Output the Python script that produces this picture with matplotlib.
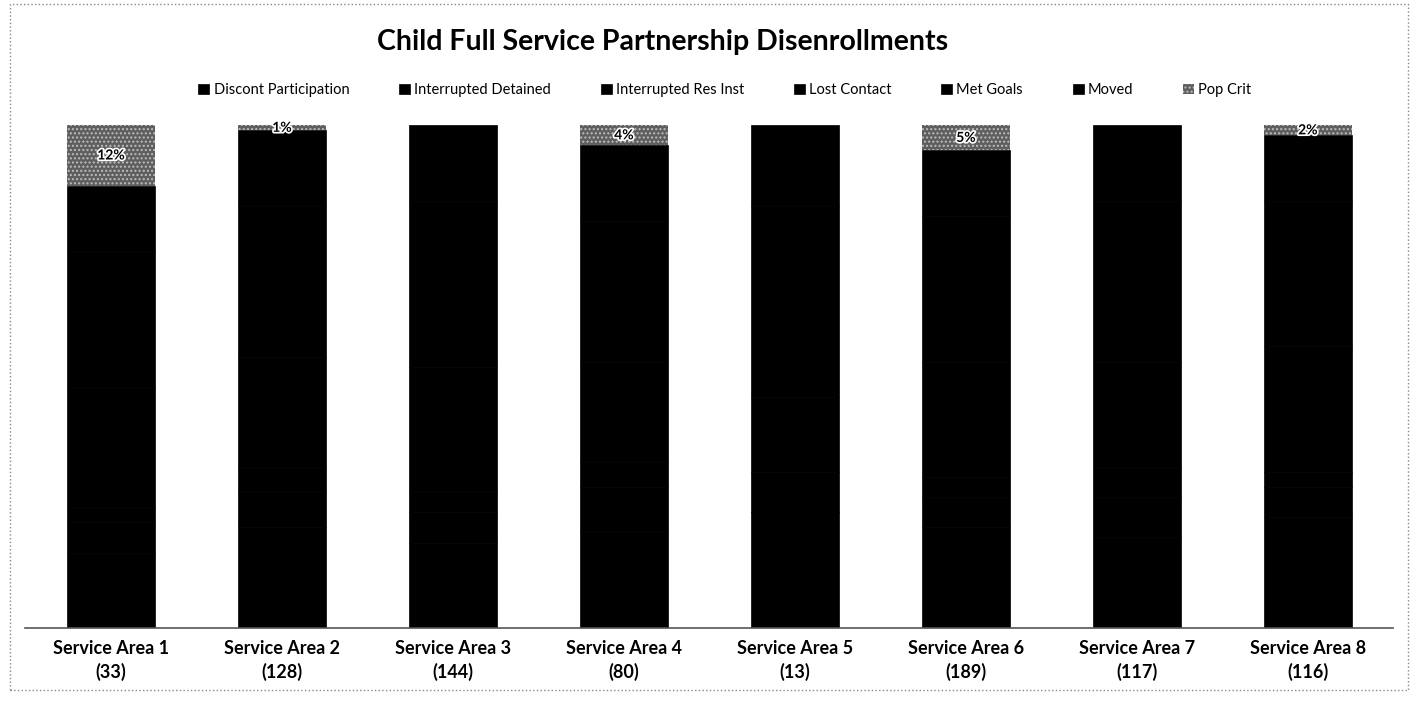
import matplotlib.pyplot as plt
import matplotlib.patheffects as pe
from matplotlib.patches import Rectangle
import numpy as np

plt.rcParams['font.family'] = ['Lato', 'DejaVu Sans']

areas = ['Service Area 1', 'Service Area 2', 'Service Area 3', 'Service Area 4',
         'Service Area 5', 'Service Area 6', 'Service Area 7', 'Service Area 8']
counts = [33, 128, 144, 80, 13, 189, 117, 116]

# percent of disenrollments per area (the scan shows every category except Pop Crit as black)
discont = [15, 20, 17, 19, 23, 20, 18, 22]
int_detained = [6, 7, 6, 9, 0, 6, 8, 6]
int_resinst = [3, 5, 4, 5, 8, 4, 6, 3]
lost_contact = [24, 22, 25, 20, 15, 23, 21, 25]
met_goals = [27, 30, 33, 28, 38, 29, 32, 29]
moved = [13, 15, 15, 15, 16, 13, 15, 13]
pop_crit = [12, 1, 0, 4, 0, 5, 0, 2]

series = [
    ('Discont Participation', discont),
    ('Interrupted Detained', int_detained),
    ('Interrupted Res Inst', int_resinst),
    ('Lost Contact', lost_contact),
    ('Met Goals', met_goals),
    ('Moved', moved),
]

fig = plt.figure(figsize=(14.16, 7.04), dpi=100)
ax = fig.add_axes([0.018, 0.108, 0.966, 0.714])

x = np.arange(len(areas))
width = 0.515
bottom = np.zeros(len(areas))
for name, vals in series:
    vals = np.array(vals, dtype=float)
    ax.bar(x, vals, width, bottom=bottom, color='black', edgecolor='black',
           linewidth=0.5, label=name)
    bottom += vals

pc = np.array(pop_crit, dtype=float)
plt.rcParams['hatch.linewidth'] = 1.0
ax.bar(x, pc, width, bottom=bottom, color='#5e5e5e', edgecolor='#bdbdbd',
       hatch='....', linewidth=0, label='Pop Crit')

for i, v in enumerate(pop_crit):
    if v > 0:
        ax.text(x[i], bottom[i] + v / 2, '%d%%' % v, ha='center', va='center',
                fontsize=10, fontweight='bold', color='black',
                path_effects=[pe.withStroke(linewidth=2.5, foreground='white')])

ax.set_xlim(-0.5, 7.5)
ax.set_ylim(0, 100)
ax.set_yticks([])
for s in ['top', 'right', 'left']:
    ax.spines[s].set_visible(False)
ax.spines['bottom'].set_color('#555555')
ax.spines['bottom'].set_linewidth(1.2)
ax.set_xticks(x)
ax.set_xticklabels(['%s\n(%d)' % (a, c) for a, c in zip(areas, counts)],
                   fontsize=13, fontweight='bold', linespacing=1.35)
ax.tick_params(axis='x', length=0, pad=9)

fig.text(0.468, 0.94, 'Child Full Service Partnership Disenrollments',
         ha='center', va='center', fontsize=20.5, fontweight='bold')

handles, labels = ax.get_legend_handles_labels()
fig.legend(handles, labels, loc='center', bbox_to_anchor=(0.512, 0.872), ncol=7,
           frameon=False, fontsize=10.5, handlelength=0.75, handleheight=0.75,
           handletextpad=0.3, columnspacing=3.4)

fig.patches.append(Rectangle((0.007, 0.02), 0.987, 0.975, transform=fig.transFigure,
                             fill=False, edgecolor='#888888', linewidth=1,
                             linestyle=':'))

fig.savefig('out.png', dpi=100, facecolor='white')
